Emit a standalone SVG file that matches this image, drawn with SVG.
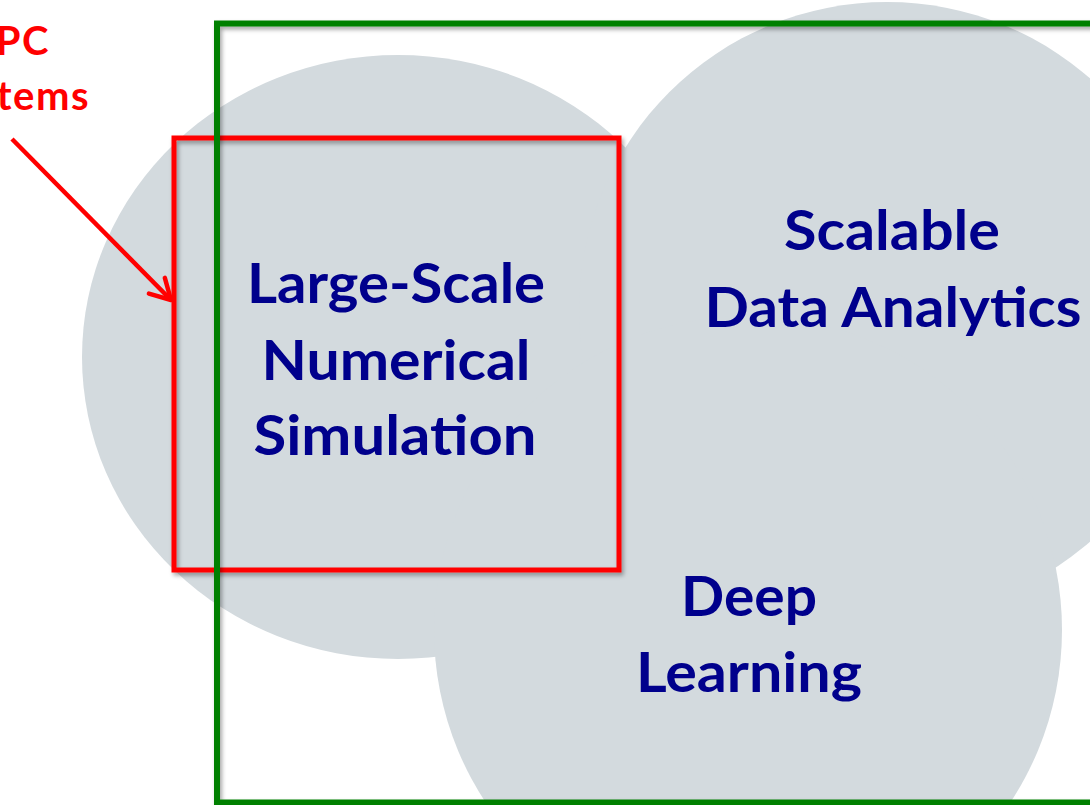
<svg xmlns="http://www.w3.org/2000/svg" width="1090" height="805" viewBox="0 0 1090 805">
  <style>
    .blob { fill: #D3DADE; stroke: none; }
    .lbl { font-family: Lato, "Open Sans", "Liberation Sans", sans-serif; font-weight: bold; font-size: 55px; fill: #00008C; text-anchor: middle; }
    .red-lbl { font-family: Lato, "Open Sans", "Liberation Sans", sans-serif; font-weight: bold; font-size: 40px; letter-spacing: 1.5px; fill: #FF0000; text-anchor: end; }
    .red-box { fill: none; stroke: #FF0000; stroke-width: 5; }
    .green-box { fill: none; stroke: #008000; stroke-width: 6; }
    .arrow { fill: none; stroke: #FF0000; stroke-width: 4.5; }
  </style>
  <defs>
    <filter id="shadow" x="-5%" y="-5%" width="115%" height="115%">
      <feDropShadow dx="2" dy="3" stdDeviation="2" flood-color="#000000" flood-opacity="0.35"/>
    </filter>
    <marker id="openhead" markerUnits="userSpaceOnUse" viewBox="-26 -15 30 30" refX="0" refY="0" markerWidth="30" markerHeight="30" orient="auto">
      <path d="M-20.1,-11.2 L0,0 L-20.1,11.2" fill="none" stroke="#FF0000" stroke-width="4.5" stroke-linecap="round" stroke-linejoin="round"/>
    </marker>
  </defs>

  <rect width="1090" height="805" fill="#FFFFFF"/>

  <g id="node-numerical-simulation">
    <ellipse class="blob" cx="398" cy="357" rx="316" ry="302"/>
  </g>
  <g id="node-data-analytics">
    <circle class="blob" cx="887" cy="310" r="308"/>
  </g>
  <g id="node-deep-learning">
    <circle class="blob" cx="748" cy="630" r="314"/>
  </g>

  <g id="node-hpc-systems">
    <rect class="red-box" x="174" y="138" width="445" height="432" filter="url(#shadow)"/>
    <text class="red-lbl" x="50" y="55">HPC</text>
    <text class="red-lbl" x="90" y="110">Systems</text>
  </g>

  <g id="node-scope">
    <rect class="green-box" x="217" y="23.5" width="900" height="779" filter="url(#shadow)"/>
  </g>

  <g id="labels">
    <text class="lbl" x="396" y="303" textLength="298" lengthAdjust="spacingAndGlyphs">Large-Scale</text>
    <text class="lbl" x="396" y="380" textLength="269" lengthAdjust="spacingAndGlyphs">Numerical</text>
    <text class="lbl" x="395" y="455" textLength="283" lengthAdjust="spacingAndGlyphs">Simulation</text>
    <text class="lbl" x="892" y="250" textLength="216" lengthAdjust="spacingAndGlyphs">Scalable</text>
    <text class="lbl" x="893" y="327" textLength="377" lengthAdjust="spacingAndGlyphs">Data Analytics</text>
    <text class="lbl" x="749" y="616" textLength="136" lengthAdjust="spacingAndGlyphs">Deep</text>
    <text class="lbl" x="749" y="692" textLength="226" lengthAdjust="spacingAndGlyphs">Learning</text>
  </g>

  <g id="connectors">
    <line class="arrow" x1="12" y1="139" x2="171" y2="300" marker-end="url(#openhead)"/>
  </g>
</svg>
